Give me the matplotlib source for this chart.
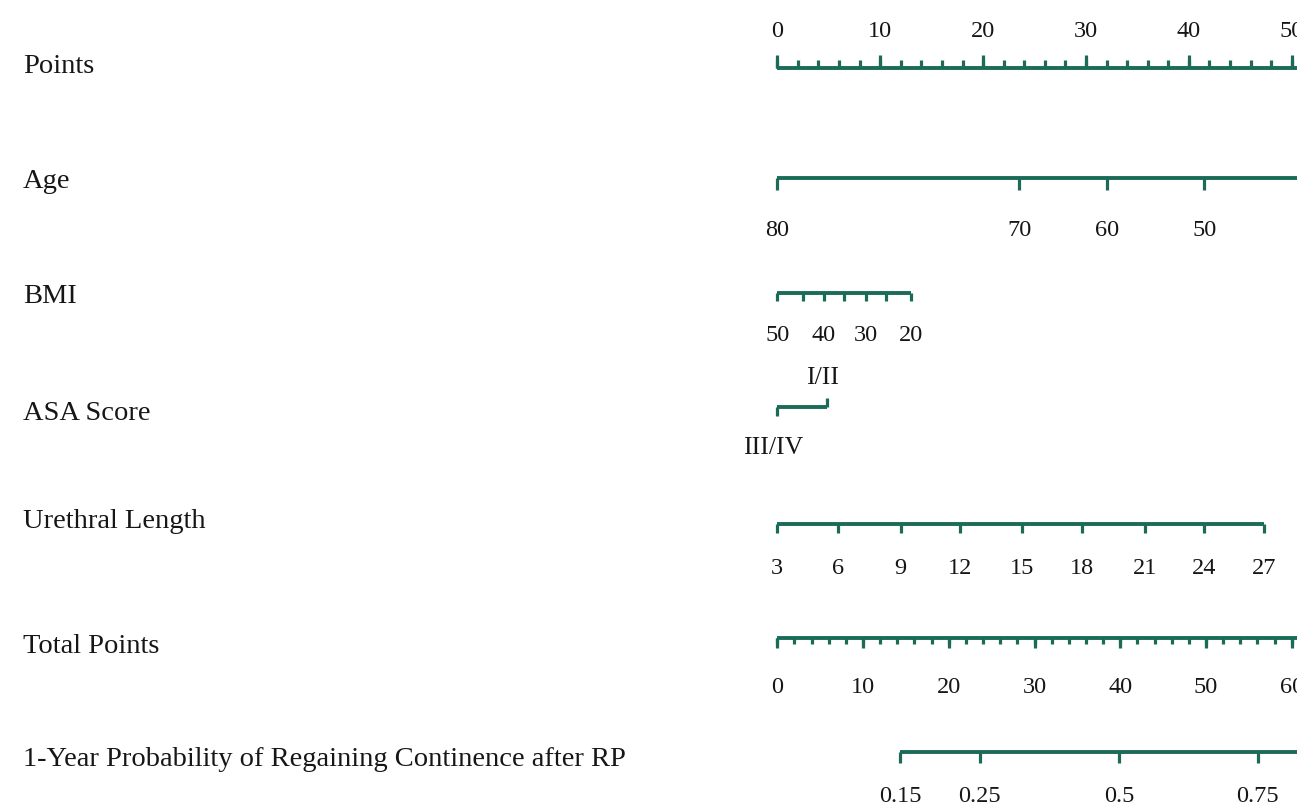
import numpy as np
import matplotlib.pyplot as plt
from matplotlib import transforms

# values (x positions in "Points" units)
row_names = ["Points", "Age", "BMI", "ASA Score", "Urethral Length",
             "Total Points", "1-Year Probability of Regaining Continence after RP"]

points_major = [0, 10, 20, 30, 40, 50, 60, 70, 80, 90, 100]

age_values = [80, 70, 60, 50]
age_points = [0, 23.5, 32.0, 41.5]

bmi_values = [50, 45, 40, 35, 30, 25, 20]
bmi_points = [0, 2.5, 4.5, 6.5, 8.6, 10.6, 13.0]
bmi_labelled = [50, 40, 30, 20]

asa_labels = ["III/IV", "I/II"]
asa_points = [0, 4.8]

ureth_values = [3, 6, 9, 12, 15, 18, 21, 24, 27]
ureth_points = [0, 5.87, 12.0, 17.8, 23.8, 29.6, 35.7, 41.5, 47.3]

total_major = [0, 10, 20, 30, 40, 50, 60, 70, 80, 90, 100, 110, 120]
total_max = 120

prob_labels = ["0.15", "0.25", "0.5", "0.75"]
prob_total = [14.35, 23.6, 39.85, 56.05]

green = "#1b6b58"
ink = "#161616"
lw = 2.8
tlw = 2.3

plt.rcParams['font.family'] = ['Liberation Serif', 'DejaVu Serif']

fig = plt.figure(figsize=(12.97, 8.06), dpi=100)
ax = fig.add_axes([0, 0, 1, 1])
px = 10.29  # pixels per point
ax.set_xlim(-777.3 / px, (1297 - 777.3) / px)
ax.set_ylim(806, 0)
ax.axis('off')
xr = ax.get_xlim()[1]

lab = transforms.blended_transform_factory(ax.transAxes, ax.transData)
row_base = [73, 188, 303, 420, 528, 653, 766]
for name, yb in zip(row_names, row_base):
    ax.text(23 / 1297, yb, name, transform=lab, fontsize=20.5, color=ink,
            ha='left', va='baseline')

tfs = 17.5

def hline(x0, x1, y):
    ax.plot([x0, x1], [y, y], color=green, lw=lw, solid_capstyle='butt')

def tlabel(x, y, s, size=tfs):
    # labels that fall past the cropped right edge are not drawn
    if x < xr:
        ax.text(x, y, s, fontsize=size, color=ink, ha='center', va='baseline')

# Points
y = 68
hline(0, 100, y)
ax.vlines(np.arange(0, 101, 2), y - 8, y, color=green, lw=tlw)
ax.vlines(points_major, y - 13, y, color=green, lw=tlw)
for v in points_major:
    tlabel(v, 37, str(v))

# Age
y = 178
hline(age_points[0], xr + 5, y)
ax.vlines(age_points, y, y + 12, color=green, lw=tlw)
for v, p in zip(age_values, age_points):
    tlabel(p, 236, str(v))

# BMI
y = 293
hline(bmi_points[0], bmi_points[-1], y)
ax.vlines(bmi_points, y, y + 8, color=green, lw=tlw)
for v, p in zip(bmi_values, bmi_points):
    if v in bmi_labelled:
        tlabel(p, 341, str(v))

# ASA score
y = 407
hline(asa_points[0], asa_points[1], y)
ax.vlines(asa_points[0], y, y + 9, color=green, lw=tlw)
ax.vlines(asa_points[1], y - 9, y, color=green, lw=tlw)
tlabel(asa_points[0] - 0.4, 454, asa_labels[0], tfs + 1)
tlabel(asa_points[1] - 0.4, 384, asa_labels[1], tfs + 1)

# Urethral length
y = 524
hline(ureth_points[0], ureth_points[-1], y)
ax.vlines(ureth_points, y, y + 9, color=green, lw=tlw)
for v, p in zip(ureth_values, ureth_points):
    tlabel(p, 574, str(v))

# Total points
y = 638
k = 100 / total_max
hline(0, total_max * k, y)
ax.vlines(np.arange(0, total_max + 1, 2) * k, y, y + 5.5, color=green, lw=tlw)
ax.vlines(np.array(total_major) * k, y, y + 9.5, color=green, lw=tlw)
for v in total_major:
    tlabel(v * k, 693, str(v))

# Probability
y = 752
pp = np.array(prob_total) * k
hline(pp[0], xr + 5, y)
ax.vlines(pp, y, y + 11, color=green, lw=tlw)
for s, p in zip(prob_labels, pp):
    tlabel(p, 802, s)

fig.savefig("out.png", dpi=100)
